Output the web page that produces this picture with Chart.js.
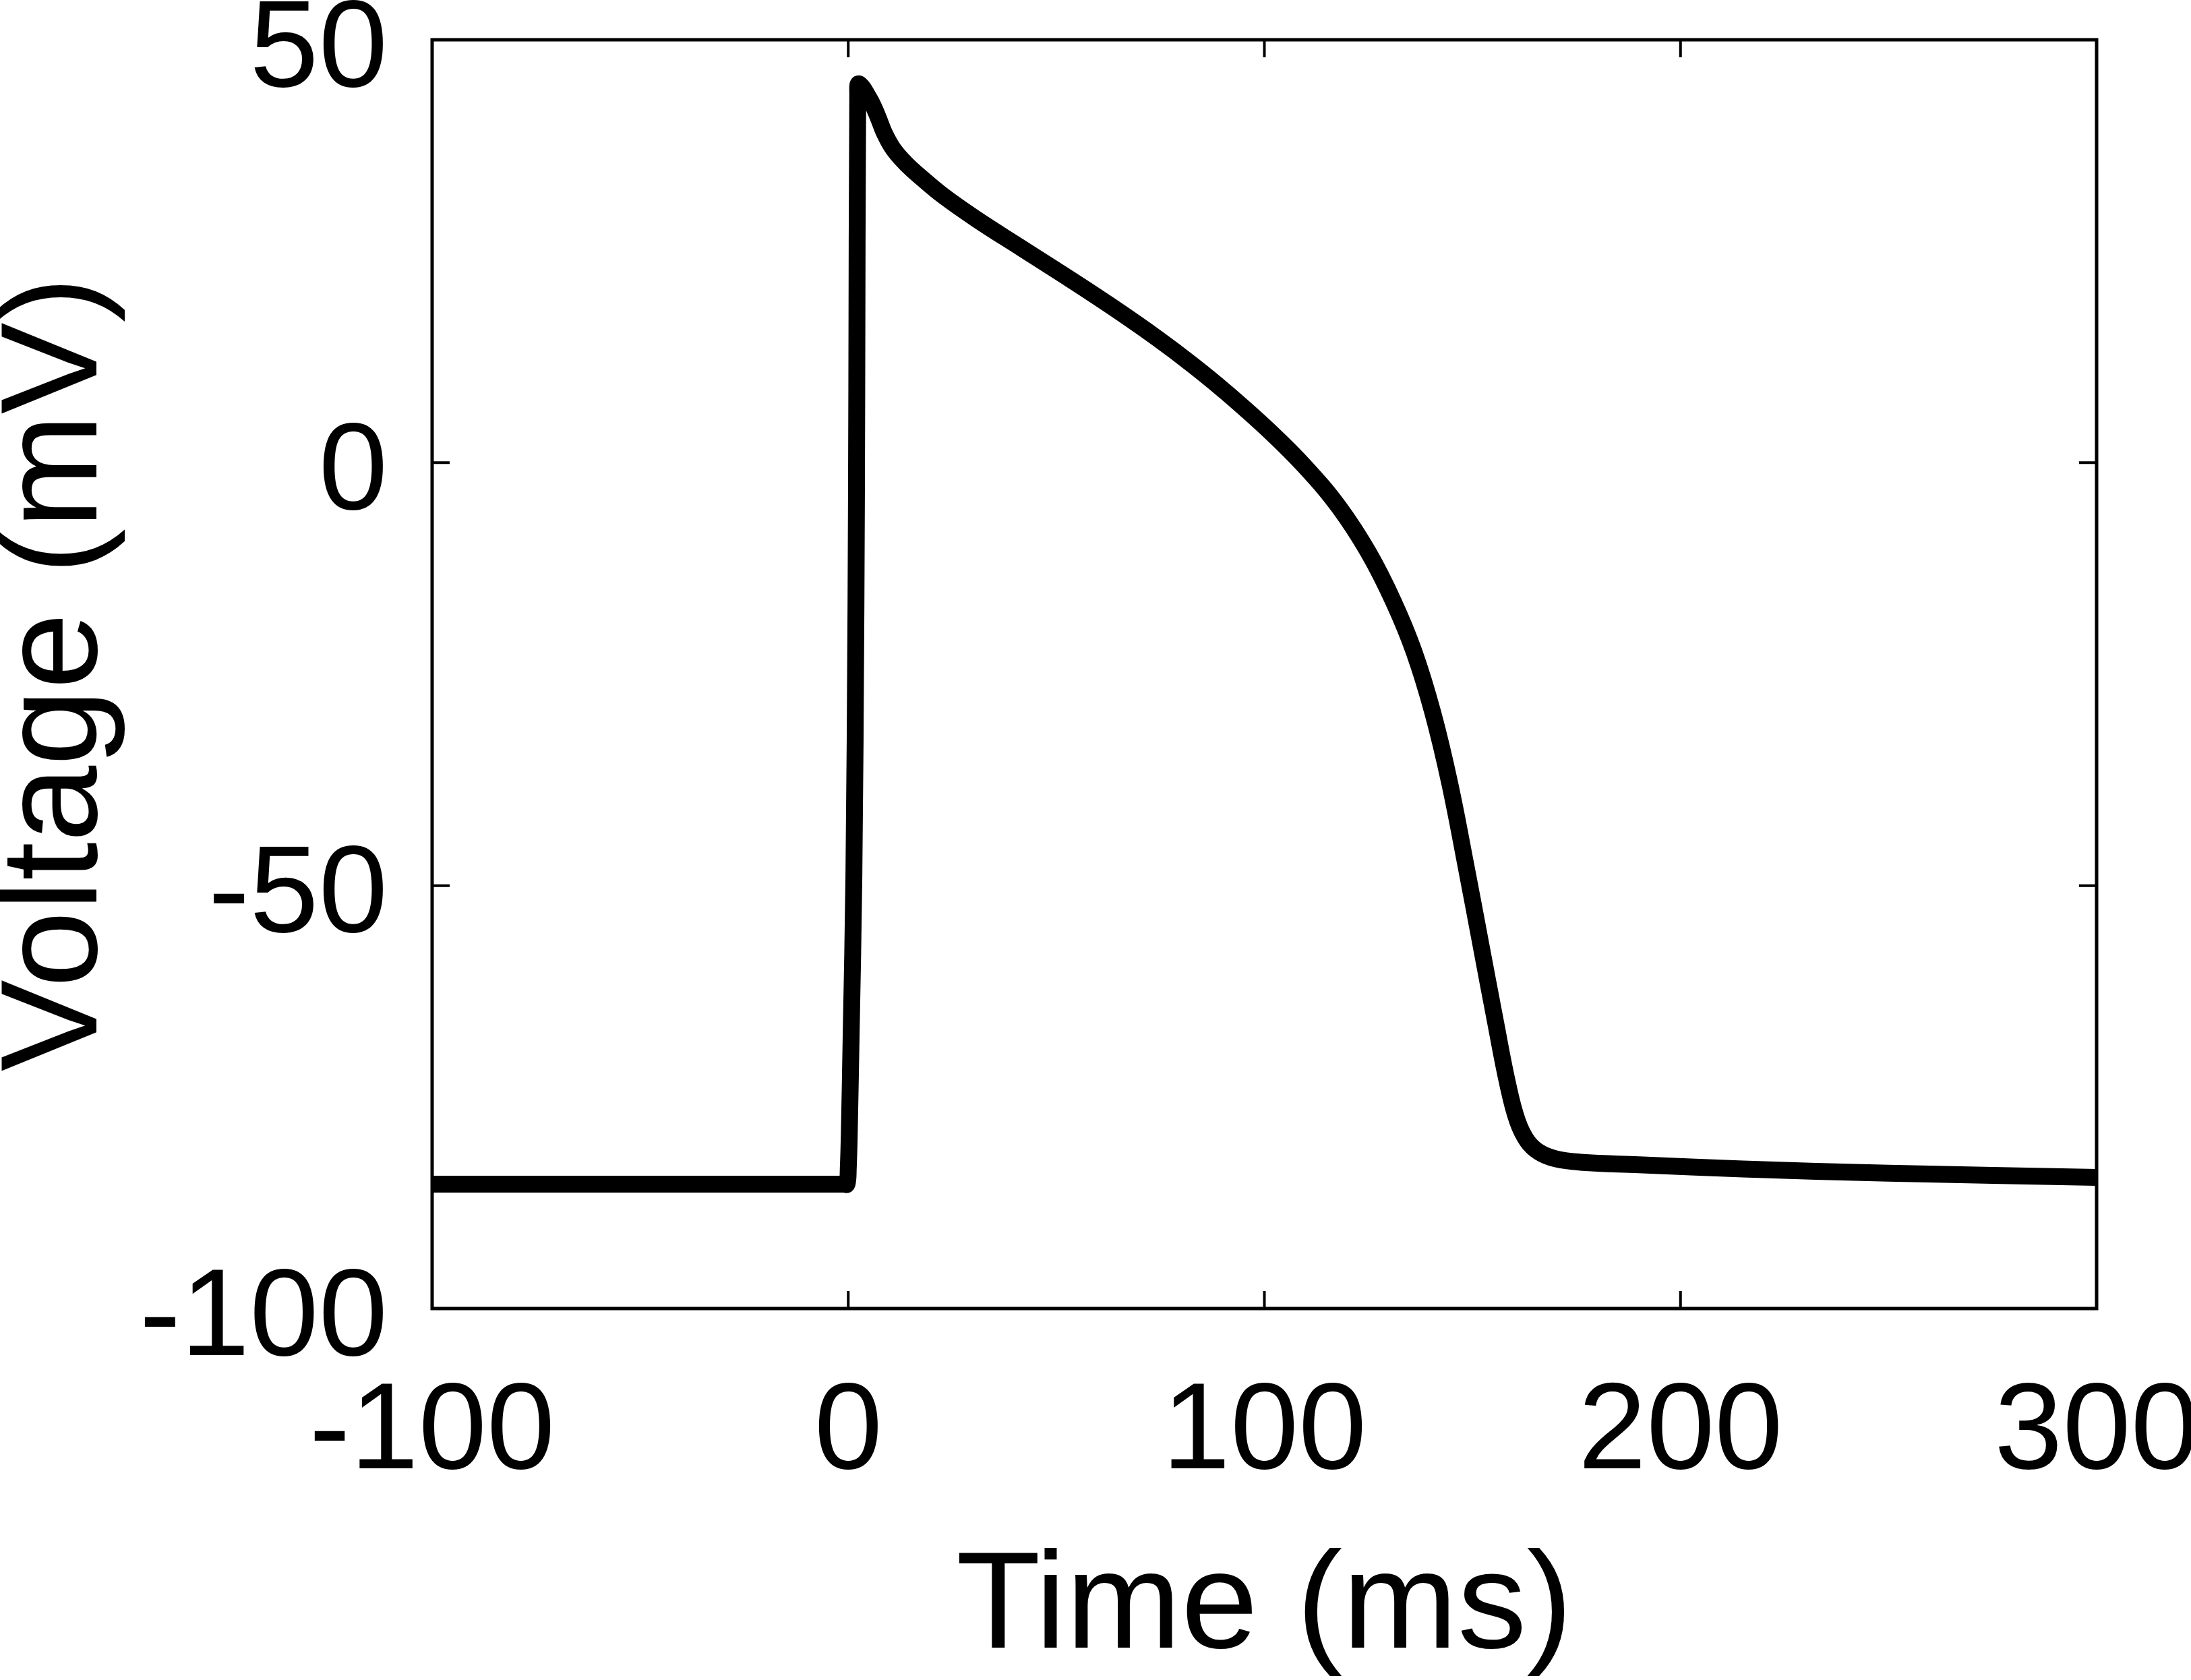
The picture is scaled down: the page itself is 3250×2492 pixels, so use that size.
<!DOCTYPE html>
<html>
<head>
<meta charset="utf-8">
<script src="https://cdn.jsdelivr.net/npm/chart.js@4.4.1/dist/chart.umd.min.js"></script>
<style>
  html, body { margin: 0; padding: 0; background: #fff; }
  canvas { display: block; }
</style>
</head>
<body>
<canvas id="apChart" width="3250" height="2492" style="width:3250px;height:2492px"></canvas>
<script>
// action potential trace
const timeMs = [-100, -1, -0.3, 0, 0.3, 0.7, 1.35, 1.85, 2.05, 2.28, 2.55, 5.14, 7.04, 8.66, 10.81,
  13.78, 17.56, 22.96, 31.07, 41.87, 52.66, 63.47, 74.27, 82.9, 90.6, 101.3, 110.0,
  118.0, 125.0, 131.0, 136.0, 140.5, 144.5, 148.5, 152.0, 155.5, 158.5, 160.8, 163.2,
  166.0, 170.0, 176.0, 190.0, 215.0, 250.0, 300];
const voltageMv = [-85.3, -85.3, -85.3, -83.5, -78.0, -67.5, -49.0, -17.0, 8.5, 43.5, 44.8, 43.0, 41.0, 39.0, 37.1,
  35.4, 33.7, 31.5, 28.7, 25.3, 21.9, 18.4, 14.7, 11.5, 8.4, 3.7, -0.6,
  -5.3, -10.6, -16.4, -22.4, -29.6, -37.8, -47.8, -56.9, -66.0, -73.5, -77.8, -80.2,
  -81.5, -82.3, -82.7, -83.0, -83.5, -84.0, -84.5];

const xTicks = [-100, 0, 100, 200, 300];
const yTicks = [-100, -50, 0, 50];

const points = timeMs.map((t, i) => ({ x: t, y: voltageMv[i] }));

const FONT = "'Liberation Sans', Arial, Helvetica, sans-serif";

// box with inward ticks on all four sides
const frameTicks = {
  id: 'frameTicks',
  afterDatasetsDraw(chart) {
    const { ctx, chartArea: a, scales: { x, y } } = chart;
    const len = 26;
    ctx.save();
    ctx.strokeStyle = '#000';
    ctx.lineWidth = 4;
    ctx.beginPath();
    xTicks.forEach(v => {
      const px = x.getPixelForValue(v);
      ctx.moveTo(px, a.bottom); ctx.lineTo(px, a.bottom - len);
      ctx.moveTo(px, a.top); ctx.lineTo(px, a.top + len);
    });
    yTicks.forEach(v => {
      const py = y.getPixelForValue(v);
      ctx.moveTo(a.left, py); ctx.lineTo(a.left + len, py);
      ctx.moveTo(a.right, py); ctx.lineTo(a.right - len, py);
    });
    ctx.stroke();
    ctx.lineWidth = 5;
    ctx.strokeRect(a.left, a.top, a.right - a.left, a.bottom - a.top);
    ctx.restore();
  }
};

new Chart(document.getElementById('apChart'), {
  type: 'line',
  data: {
    datasets: [{
      data: points,
      borderColor: '#000',
      borderWidth: 25,
      borderJoinStyle: 'round',
      borderCapStyle: 'round',
      pointRadius: 0,
      tension: 0.4,
      fill: false,
      clip: 0
    }]
  },
  options: {
    responsive: false,
    devicePixelRatio: 1,
    animation: false,
    layout: { padding: { left: 0, top: 59, right: 140, bottom: 0 } },
    plugins: { legend: { display: false }, tooltip: { enabled: false } },
    scales: {
      x: {
        type: 'linear',
        min: -100,
        max: 300,
        afterBuildTicks: s => { s.ticks = xTicks.map(v => ({ value: v })); },
        afterFit: s => { s.height = 551; s.paddingLeft = 0; s.paddingRight = 0; },
        grid: { display: false },
        border: { display: false },
        ticks: { color: '#000', padding: 70, maxRotation: 0, font: { family: FONT, size: 182 } },
        title: {
          display: true,
          text: 'Time (ms)',
          color: '#000',
          font: { family: FONT, size: 205, lineHeight: 1.0 },
          padding: { top: 0, bottom: 2 }
        }
      },
      y: {
        type: 'linear',
        min: -100,
        max: 50,
        afterBuildTicks: s => { s.ticks = yTicks.map(v => ({ value: v })); },
        afterFit: s => { s.width = 641; s.paddingTop = 0; s.paddingBottom = 0; },
        grid: { display: false },
        border: { display: false },
        ticks: { color: '#000', padding: 58, labelOffset: 18, font: { family: FONT, size: 184 } },
        title: {
          display: true,
          text: 'Voltage (mV)',
          color: '#000',
          font: { family: FONT, size: 204, lineHeight: 0.85 },
          padding: { top: 0, bottom: 0 }
        }
      }
    }
  },
  plugins: [frameTicks]
});
</script>
</body>
</html>
